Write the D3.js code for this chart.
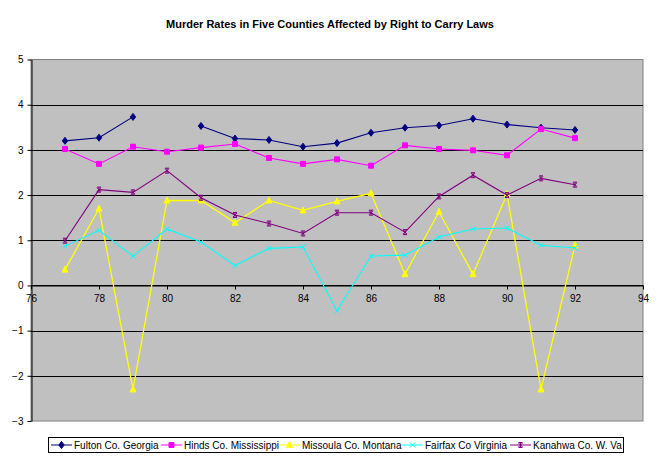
<!DOCTYPE html>
<html>
<head>
<meta charset="utf-8">
<script src="https://cdn.jsdelivr.net/npm/d3@7"></script>
<style>
  body { margin: 0; background: #fff; }
  svg text { font-family: "Liberation Sans", Arial, sans-serif; }
</style>
</head>
<body>
<div id="chart"></div>
<script>
const years = [77, 78, 79, 80, 81, 82, 83, 84, 85, 86, 87, 88, 89, 90, 91, 92];
const fulton = [3.20, 3.27, 3.73, null, 3.53, 3.25, 3.22, 3.07, 3.15, 3.38, 3.49, 3.54, 3.69, 3.56, 3.49, 3.44];
const hinds = [3.02, 2.69, 3.07, 2.96, 3.05, 3.13, 2.82, 2.69, 2.79, 2.65, 3.10, 3.02, 2.99, 2.88, 3.46, 3.26];
const missoula = [0.35, 1.70, -2.30, 1.88, 1.88, 1.39, 1.88, 1.66, 1.86, 2.04, 0.25, 1.63, 0.25, 2.02, -2.30, 0.89];
const fairfax = [0.87, 1.22, 0.65, 1.25, 0.96, 0.44, 0.82, 0.85, -0.56, 0.65, 0.67, 1.07, 1.25, 1.27, 0.89, 0.83];
const kanahwa = [0.99, 2.12, 2.06, 2.54, 1.94, 1.56, 1.37, 1.15, 1.61, 1.61, 1.18, 1.97, 2.44, 2.00, 2.37, 2.23];
const seriesNames = ['Fulton Co. Georgia', 'Hinds Co. Mississippi', 'Missoula Co. Montana', 'Fairfax Co Virginia', 'Kanahwa Co. W. Va'];
const xTicks = [76, 78, 80, 82, 84, 86, 88, 90, 92, 94];
const yTicks = [-3, -2, -1, 0, 1, 2, 3, 4, 5];

const series = [
  { name: seriesNames[0], values: fulton, color: '#000080', marker: 'diamond' },
  { name: seriesNames[1], values: hinds, color: '#ff00ff', marker: 'square' },
  { name: seriesNames[2], values: missoula, color: '#ffff00', marker: 'triangle' },
  { name: seriesNames[3], values: fairfax, color: '#00ffff', marker: 'x' },
  { name: seriesNames[4], values: kanahwa, color: '#800080', marker: 'star' },
];

const width = 661, height = 460;
const svg = d3.select('#chart').append('svg')
  .attr('width', width)
  .attr('height', height);

const x = d3.scaleLinear().domain([76, 94]).range([31, 643]);
const y = d3.scaleLinear().domain([-3, 5]).range([421, 59.5]);

svg.append('text')
  .attr('x', 330)
  .attr('y', 28)
  .attr('text-anchor', 'middle')
  .style('font-size', '11px')
  .style('font-weight', 'bold')
  .text('Murder Rates in Five Counties Affected by Right to Carry Laws');

// plot area
svg.append('rect')
  .attr('x', x(76))
  .attr('y', y(5))
  .attr('width', x(94) - x(76))
  .attr('height', y(-3) - y(5))
  .attr('fill', '#c0c0c0')
  .attr('stroke', '#808080')
  .attr('stroke-width', 1);

// gridlines
svg.append('g')
  .selectAll('line')
  .data(yTicks.filter(d => d !== 5 && d !== -3))
  .enter().append('line')
  .attr('x1', x(76))
  .attr('x2', x(94))
  .attr('y1', d => Math.round(y(d)) + 0.5)
  .attr('y2', d => Math.round(y(d)) + 0.5)
  .attr('stroke', '#000')
  .attr('stroke-width', 1);

// y axis
const yAxis = svg.append('g')
  .attr('transform', `translate(${Math.round(x(76)) + 0.5},0)`)
  .call(d3.axisLeft(y).tickValues(yTicks).tickSize(4).tickSizeOuter(0).tickFormat(d3.format('d')));
yAxis.select('.domain').attr('stroke', '#000');
yAxis.selectAll('.tick line').attr('stroke', '#000');
yAxis.selectAll('text')
  .attr('x', -8)
  .style('font-size', '10px')
  .style('font-family', '"Liberation Sans", Arial, sans-serif')
  .attr('fill', '#000');

// x axis at zero
const xAxis = svg.append('g')
  .attr('transform', `translate(0,${Math.round(y(0)) + 0.5})`)
  .call(d3.axisBottom(x).tickValues(xTicks).tickSize(4).tickSizeOuter(0).tickFormat(d3.format('d')));
xAxis.select('.domain').attr('stroke', '#000');
xAxis.selectAll('.tick line').attr('stroke', '#000');
xAxis.selectAll('text')
  .attr('y', 9)
  .style('font-size', '10px')
  .style('font-family', '"Liberation Sans", Arial, sans-serif')
  .attr('fill', '#000');

function markerPath(type) {
  switch (type) {
    case 'diamond': return 'M0,-3.5L2.7,0L0,3.5L-2.7,0Z';
    case 'square': return 'M-2.5,-2.5H2.5V2.5H-2.5Z';
    case 'triangle': return 'M0,-3.5L3,2.5H-3Z';
    case 'x': return 'M-2.5,-2.5L2.5,2.5M-2.5,2.5L2.5,-2.5';
    case 'star': return 'M-2,-2L2,2M-2,2L2,-2M0,-2.5V2.5M-2,-2.5H2M-2,2.5H2';
    default: return '';
  }
}

function drawMarker(sel, s) {
  const filled = s.marker === 'diamond' || s.marker === 'square' || s.marker === 'triangle';
  sel.append('path')
    .attr('d', markerPath(s.marker))
    .attr('fill', filled ? s.color : 'none')
    .attr('stroke', s.color)
    .attr('stroke-width', 1);
}

const line = d3.line()
  .defined(d => d.v !== null)
  .x(d => x(d.year))
  .y(d => y(d.v));

series.forEach(s => {
  const pts = years.map((yr, i) => ({ year: yr, v: s.values[i] }));
  const g = svg.append('g');
  g.append('path')
    .datum(pts)
    .attr('d', line)
    .attr('fill', 'none')
    .attr('stroke', s.color)
    .attr('stroke-width', s.marker === 'triangle' ? 1.3 : 1.1);
  g.selectAll('.pt')
    .data(pts.filter(d => d.v !== null))
    .enter().append('g')
    .attr('class', 'pt')
    .attr('transform', d => `translate(${x(d.year)},${y(d.v)})`)
    .each(function () { drawMarker(d3.select(this), s); });
});

// legend
const legend = svg.append('g');
legend.append('rect')
  .attr('x', 48.5)
  .attr('y', 437.5)
  .attr('width', 575)
  .attr('height', 15)
  .attr('fill', '#fff')
  .attr('stroke', '#000');

const legendX = [51, 161, 279, 402, 510];
series.forEach((s, i) => {
  const lg = legend.append('g').attr('transform', `translate(${legendX[i]},445)`);
  lg.append('line')
    .attr('x1', 0).attr('x2', 21)
    .attr('y1', 0).attr('y2', 0)
    .attr('stroke', s.color)
    .attr('stroke-width', 1);
  drawMarker(lg.append('g').attr('transform', 'translate(10.5,0)'), s);
  lg.append('text')
    .attr('x', 23)
    .attr('y', 4)
    .style('font-size', '10px')
    .text(s.name);
});
</script>
</body>
</html>
